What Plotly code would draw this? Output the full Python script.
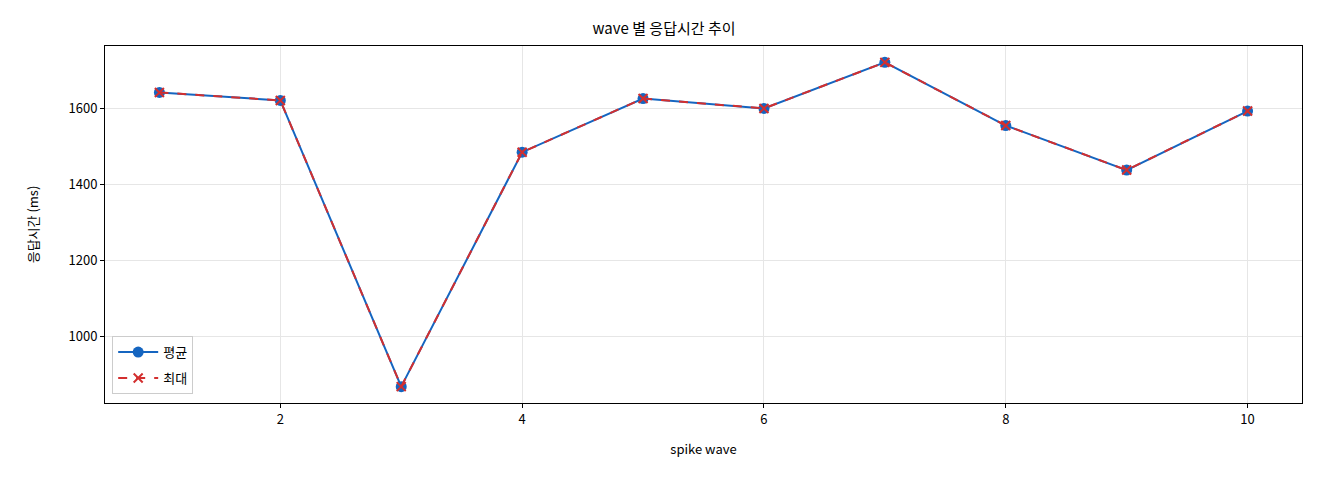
# wave 별 응답시간 추이 (평균 / 최대)
import plotly.graph_objects as go

waves = [1, 2, 3, 4, 5, 6, 7, 8, 9, 10]
avg_ms = [1641, 1620, 868, 1484, 1625, 1599, 1720, 1554, 1437, 1592]
max_ms = [1641, 1620, 868, 1484, 1625, 1599, 1720, 1554, 1437, 1592]

FONT = "Noto Sans CJK KR"

fig = go.Figure()

fig.add_trace(go.Scatter(
    x=waves, y=avg_ms,
    mode="lines+markers",
    name="평균",
    legendgroup="avg",
    line=dict(color="#1565C0", width=2),
    marker=dict(symbol="circle", size=11, color="#1565C0"),
))

fig.add_trace(go.Scatter(
    x=waves, y=max_ms,
    mode="lines+markers",
    name="최대",
    legendgroup="max",
    line=dict(color="#D32F2F", width=2, dash="dash"),
    marker=dict(symbol="x-thin", size=9, color="#D32F2F",
                line=dict(color="#D32F2F", width=2)),
))

axis_common = dict(
    showline=True, linecolor="black", linewidth=1, mirror=True,
    ticks="outside", ticklen=4, tickcolor="black",
    showgrid=True, gridcolor="#e6e6e6", gridwidth=1,
    zeroline=False,
    tickfont=dict(family=FONT, size=13, color="black"),
)

# page body has an 8px margin, so the figure is sized and padded to fit
fig.update_layout(
    width=1312, height=472,
    margin=dict(l=97, r=18, t=38, b=77),
    paper_bgcolor="white", plot_bgcolor="white",
    font=dict(family=FONT, color="black"),
    title=dict(text="wave 별 응답시간 추이", x=0.5, xanchor="center",
               y=0.955, yanchor="middle", font=dict(family=FONT, size=15)),
    xaxis=dict(axis_common, range=[0.55, 10.45], tickvals=[2, 4, 6, 8, 10],
               title=dict(text="spike wave", font=dict(family=FONT, size=13), standoff=18)),
    yaxis=dict(axis_common, range=[825, 1763], tickvals=[1000, 1200, 1400, 1600],
               title=dict(text="응답시간 (ms)", font=dict(family=FONT, size=13), standoff=26)),
    legend=dict(x=0.006, y=0.025, xanchor="left", yanchor="bottom",
                bgcolor="rgba(255,255,255,0.8)", bordercolor="#cccccc", borderwidth=1,
                font=dict(family=FONT, size=13), tracegroupgap=6,
                itemwidth=40),
)

fig.write_html("out.html")
